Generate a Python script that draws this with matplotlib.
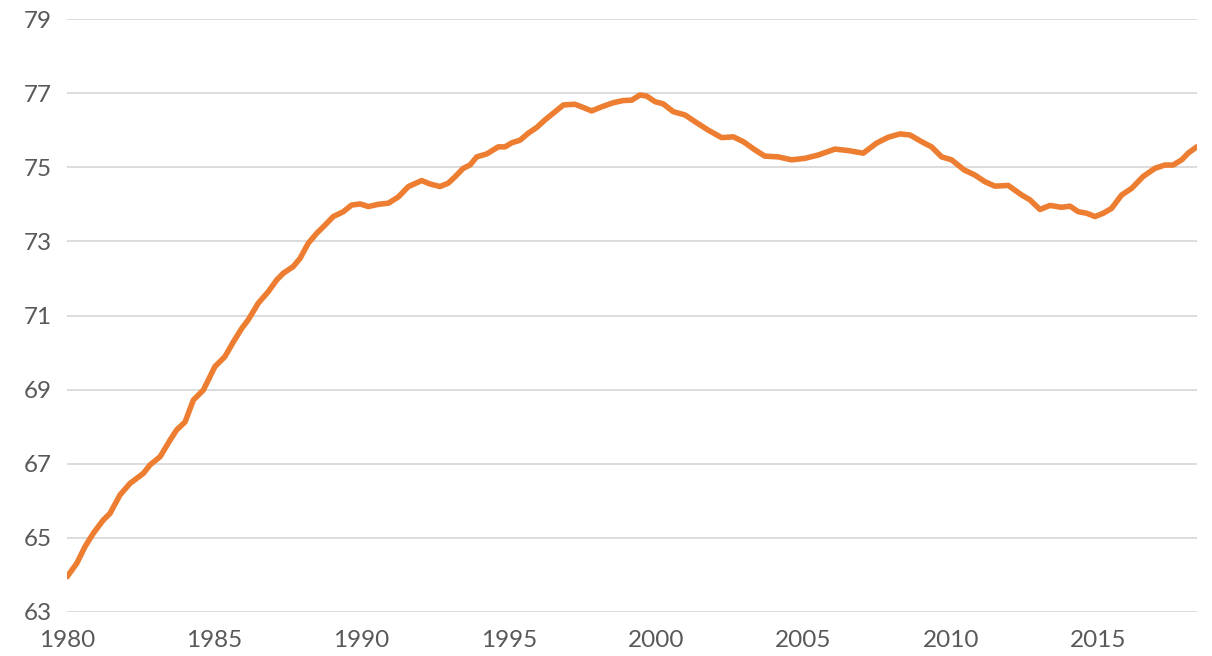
import matplotlib
matplotlib.use("Agg")
import matplotlib.pyplot as plt

# Decimal-year positions and values
years = [
    1980.00, 1980.33, 1980.61, 1980.89, 1981.23, 1981.46, 1981.80, 1982.14, 1982.59, 1982.82,
    1983.16, 1983.50, 1983.72, 1984.01, 1984.29, 1984.63, 1985.02, 1985.36, 1985.65, 1985.93,
    1986.15, 1986.49, 1986.83, 1987.12, 1987.34, 1987.68, 1987.91, 1988.19, 1988.48, 1988.76,
    1989.04, 1989.38, 1989.66, 1989.95, 1990.23, 1990.57, 1990.91, 1991.25, 1991.59, 1992.04,
    1992.32, 1992.66, 1992.94, 1993.17, 1993.45, 1993.68, 1993.91, 1994.25, 1994.64, 1994.87,
    1995.10, 1995.38, 1995.66, 1995.94, 1996.23, 1996.51, 1996.85, 1997.24, 1997.47, 1997.81,
    1998.15, 1998.54, 1998.88, 1999.17, 1999.45, 1999.68, 1999.96, 2000.24, 2000.58, 2000.98,
    2001.32, 2001.77, 2002.22, 2002.62, 2002.96, 2003.35, 2003.69, 2004.14, 2004.60, 2005.05,
    2005.50, 2006.07, 2006.52, 2007.03, 2007.48, 2007.88, 2008.28, 2008.62, 2009.01, 2009.35,
    2009.69, 2010.03, 2010.45, 2010.82, 2011.16, 2011.50, 2011.95, 2012.41, 2012.69, 2013.03,
    2013.37, 2013.76, 2014.05, 2014.33, 2014.61, 2014.90, 2015.18, 2015.46, 2015.80, 2016.14,
    2016.53, 2016.93, 2017.27, 2017.55, 2017.84, 2018.06, 2018.35,
]
values = [
    63.95, 64.31, 64.76, 65.12, 65.48, 65.66, 66.16, 66.47, 66.74, 66.97,
    67.19, 67.64, 67.91, 68.13, 68.72, 68.99, 69.62, 69.89, 70.29, 70.65,
    70.88, 71.33, 71.64, 71.96, 72.14, 72.32, 72.54, 72.95, 73.22, 73.44,
    73.67, 73.80, 73.98, 74.01, 73.94, 74.00, 74.03, 74.20, 74.48, 74.64,
    74.55, 74.48, 74.57, 74.74, 74.97, 75.06, 75.28, 75.36, 75.55, 75.55,
    75.66, 75.73, 75.92, 76.07, 76.28, 76.46, 76.68, 76.70, 76.63, 76.52,
    76.63, 76.74, 76.80, 76.81, 76.95, 76.92, 76.77, 76.71, 76.50, 76.41,
    76.23, 76.00, 75.80, 75.82, 75.69, 75.47, 75.30, 75.28, 75.20, 75.24,
    75.33, 75.49, 75.45, 75.38, 75.65, 75.81, 75.90, 75.87, 75.69, 75.55,
    75.28, 75.20, 74.93, 74.79, 74.61, 74.49, 74.51, 74.25, 74.12, 73.86,
    73.97, 73.92, 73.95, 73.80, 73.76, 73.67, 73.76, 73.89, 74.25, 74.43,
    74.75, 74.97, 75.06, 75.06, 75.20, 75.38, 75.55,
]
x_ticks = [1980, 1985, 1990, 1995, 2000, 2005, 2010, 2015]
y_ticks = [63, 65, 67, 69, 71, 73, 75, 77, 79]

plt.rcParams['font.family'] = ['Lato', 'DejaVu Sans']

fig = plt.figure(figsize=(12.12, 6.56), dpi=100)
ax = fig.add_axes([67 / 1212, (656 - 612) / 656, (1197 - 67) / 1212, (612 - 19) / 656])

ax.plot(years, values, color='#ED7D31', linewidth=4.0, solid_capstyle='round',
        solid_joinstyle='round', zorder=3)

ax.set_xlim(1980, 2018.36)
ax.set_ylim(63, 79)
ax.set_xticks(x_ticks)
ax.set_xticklabels([str(t) for t in x_ticks])
ax.set_yticks(y_ticks)
ax.set_yticklabels([str(t) for t in y_ticks])

ax.grid(axis='y', color='#D9D9D9', linewidth=1.3, zorder=0)
ax.grid(axis='x', visible=False)
for s in ax.spines.values():
    s.set_visible(False)
ax.tick_params(axis='both', length=0, labelsize=17.5, colors='#595959')
ax.tick_params(axis='y', pad=11)
ax.tick_params(axis='x', pad=13)
for lab in ax.get_xticklabels() + ax.get_yticklabels():
    lab.set_color('#595959')

fig.savefig('out.png', dpi=100, facecolor='white')
